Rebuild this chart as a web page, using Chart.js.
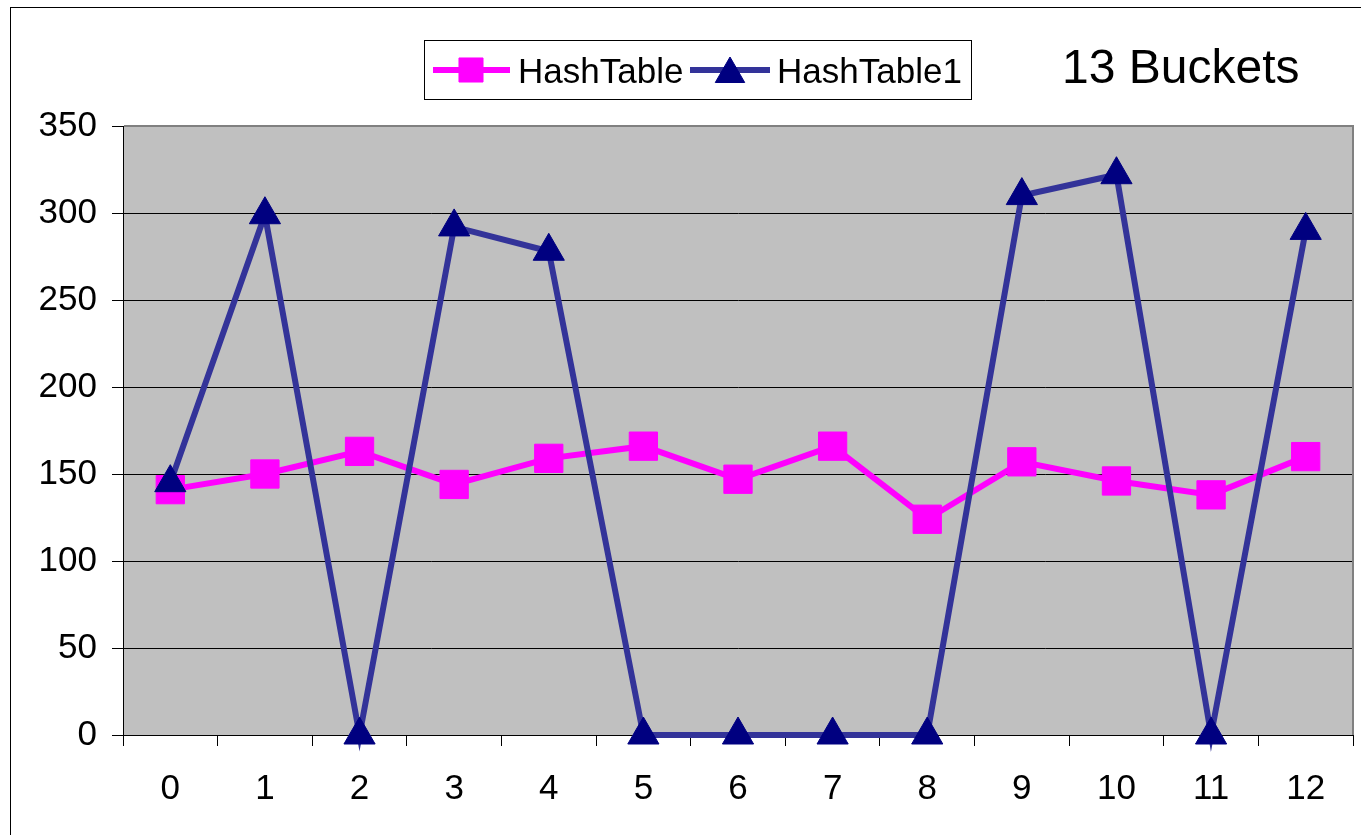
<!DOCTYPE html>
<html>
<head>
<meta charset="utf-8">
<title>13 Buckets</title>
<script src="https://cdn.jsdelivr.net/npm/chart.js@4/dist/chart.umd.min.js"></script>
<style>
  *{margin:0;padding:0;box-sizing:border-box}
  html,body{width:1361px;height:835px;background:#fff;overflow:hidden}
  canvas{display:block}
</style>
</head>
<body>
<!-- a bit wider than the window: the library keeps ~13px at the right for the last label -->
<canvas id="chart" width="1374" height="835"></canvas>
<script>
// ─── Data ──────────────────────────────────────────────
const buckets = ["0","1","2","3","4","5","6","7","8","9","10","11","12"];
const hashTable = [141, 150, 163, 144, 159, 166, 147, 166, 124, 157, 146, 138, 160];
const hashTable1 = [145, 299, 0, 292, 278, 0, 0, 0, 0, 310, 322, 0, 290];
const yTicks = [0, 50, 100, 150, 200, 250, 300, 350];

const FONT = "'Liberation Sans', Arial, sans-serif";
const MAGENTA = "#ff00ff";
const NAVY_LINE = "#333399";
const NAVY = "#000080";

// frame, plot background, plot border, legend box and title
const decor = {
  id: "decor",
  beforeDraw(chart) {
    const { ctx, chartArea: a } = chart;
    ctx.save();
    ctx.fillStyle = "#fff";
    ctx.fillRect(0, 0, chart.width, chart.height);
    ctx.strokeStyle = "#000";
    ctx.lineWidth = 1;
    ctx.strokeRect(10.5, 7.5, 1400, 900);
    ctx.fillStyle = "#c0c0c0";
    ctx.fillRect(a.left, a.top, a.right - a.left, a.bottom - a.top);
    ctx.restore();
  },
  beforeDatasetsDraw(chart) {
    const { ctx, chartArea: a } = chart;
    ctx.save();
    ctx.strokeStyle = "#808080";
    ctx.lineWidth = 2;
    ctx.beginPath();
    ctx.moveTo(a.left + 1, a.top);
    ctx.lineTo(a.right, a.top);
    ctx.lineTo(a.right, a.bottom);
    ctx.stroke();
    ctx.restore();
  },
  afterDraw(chart) {
    const { ctx } = chart;
    ctx.save();
    // legend box
    ctx.fillStyle = "#fff";
    ctx.fillRect(424, 40, 547, 59);
    ctx.strokeStyle = "#000";
    ctx.lineWidth = 1;
    ctx.strokeRect(424.5, 40.5, 547, 59);
    const ly = 70;
    ctx.lineWidth = 6;
    ctx.strokeStyle = MAGENTA;
    ctx.beginPath(); ctx.moveTo(433, ly); ctx.lineTo(510, ly); ctx.stroke();
    ctx.fillStyle = MAGENTA;
    ctx.strokeStyle = MAGENTA;
    ctx.lineWidth = 1;
    Chart.helpers.drawPoint(ctx, { pointStyle: "rect", radius: 17, borderWidth: 1 }, 471, ly);
    ctx.lineWidth = 6;
    ctx.strokeStyle = NAVY_LINE;
    ctx.beginPath(); ctx.moveTo(690, ly); ctx.lineTo(770, ly); ctx.stroke();
    ctx.fillStyle = NAVY;
    ctx.strokeStyle = NAVY;
    ctx.lineWidth = 1;
    Chart.helpers.drawPoint(ctx, { pointStyle: "triangle", radius: 17, borderWidth: 1 }, 730, ly + 4);
    ctx.fillStyle = "#000";
    ctx.font = "35px " + FONT;
    ctx.textBaseline = "alphabetic";
    ctx.fillText("HashTable", 518, 83);
    ctx.fillText("HashTable1", 777, 83);
    // title
    ctx.font = "48px " + FONT;
    ctx.fillText("13 Buckets", 1062, 83);
    ctx.restore();
  }
};

new Chart(document.getElementById("chart"), {
  type: "line",
  data: {
    labels: buckets,
    datasets: [
      {
        label: "HashTable",
        data: hashTable,
        borderColor: MAGENTA,
        backgroundColor: MAGENTA,
        borderWidth: 6,
        pointStyle: "rect",
        pointRadius: 20,
        pointBorderWidth: 1,
        tension: 0,
        clip: false,
        order: 2
      },
      {
        label: "HashTable1",
        data: hashTable1,
        borderColor: NAVY_LINE,
        backgroundColor: NAVY,
        pointBorderColor: NAVY,
        borderWidth: 6,
        pointStyle: "triangle",
        pointRadius: 18,
        pointBorderWidth: 1,
        tension: 0,
        clip: false,
        order: 1
      }
    ]
  },
  options: {
    responsive: false,
    animation: false,
    layout: { padding: { top: 126, right: 8, left: 0, bottom: 0 } },
    plugins: {
      legend: { display: false },
      title: { display: false },
      tooltip: { enabled: false }
    },
    scales: {
      x: {
        type: "category",
        offset: true,
        afterFit(scale) { scale.height = 100; },
        grid: {
          offset: true,
          drawOnChartArea: false,
          drawTicks: true,
          tickLength: 11,
          color: "#000"
        },
        border: { color: "#000", width: 1 },
        ticks: {
          color: "#000",
          font: { size: 35, family: FONT },
          padding: 22,
          maxRotation: 0,
          autoSkip: false
        }
      },
      y: {
        min: 0,
        max: 350,
        afterFit(scale) { scale.width = 123; },
        afterBuildTicks(scale) { scale.ticks = yTicks.map((v) => ({ value: v })); },
        grid: {
          color: "#000",
          lineWidth: 1,
          drawTicks: true,
          tickLength: 11
        },
        border: { color: "#000", width: 1 },
        ticks: {
          color: "#000",
          font: { size: 35, family: FONT },
          padding: 15
        }
      }
    }
  },
  plugins: [decor]
});
</script>
</body>
</html>
